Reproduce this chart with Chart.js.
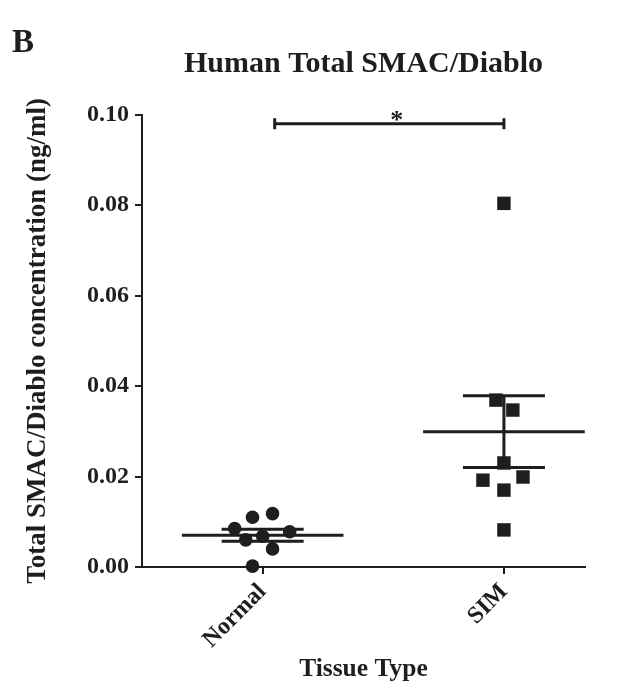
<!DOCTYPE html>
<html>
<head>
<meta charset="utf-8">
<script src="https://cdn.jsdelivr.net/npm/chart.js@4.4.0/dist/chart.umd.min.js"></script>
<style>
  html, body { margin: 0; padding: 0; background: #fff; }
</style>
</head>
<body>
<canvas id="smacchart" width="619" height="692"></canvas>
<script>
// tissue groups and the measured values (ng/ml)
var groups = ['Normal', 'SIM'];
var normalValues = [0.0118, 0.0110, 0.0085, 0.0078, 0.0068, 0.0060, 0.0040, 0.0002];
var normalX = [1.041, 0.958, 0.884, 1.112, 1.0, 0.93, 1.041, 0.958];
var simValues = [0.0804, 0.0369, 0.0347, 0.0230, 0.0192, 0.0199, 0.0170, 0.0082];
var simX = [2, 1.967, 2.037, 2, 1.913, 2.079, 2, 2];
var yTicks = [0, 0.02, 0.04, 0.06, 0.08, 0.10];
// significance bar between the groups
var sigFrom = 1.05, sigTo = 2, sigLevel = 0.098, starX = 1.556;

var ink = '#1e1e1e';
var serif = '"Liberation Serif", "Times New Roman", serif';

function meanSem(vals) {
    var n = vals.length;
    var mean = vals.reduce(function (a, b) { return a + b; }, 0) / n;
    var ss = vals.reduce(function (a, b) { return a + (b - mean) * (b - mean); }, 0);
    var sd = Math.sqrt(ss / (n - 1));
    return { mean: mean, sem: sd / Math.sqrt(n) };
}

// mean line plus SEM whiskers, gaps made with y:null
function summaryLines(center, vals) {
    var s = meanSem(vals);
    var w = 0.335, cap = 0.17;
    var hi = s.mean + s.sem, lo = s.mean - s.sem;
    return [
        { x: center - w, y: s.mean }, { x: center + w, y: s.mean }, { x: center, y: null },
        { x: center - cap, y: hi }, { x: center + cap, y: hi }, { x: center, y: null },
        { x: center - cap, y: lo }, { x: center + cap, y: lo }, { x: center, y: null },
        { x: center, y: hi }, { x: center, y: lo }
    ];
}

function points(xs, ys) {
    return ys.map(function (v, i) { return { x: xs[i], y: v }; });
}

var tick = 0.0012;
var bracket = [
    { x: sigFrom, y: sigLevel + tick }, { x: sigFrom, y: sigLevel - tick }, { x: sigFrom, y: null },
    { x: sigFrom, y: sigLevel }, { x: sigTo, y: sigLevel }, { x: sigTo, y: null },
    { x: sigTo, y: sigLevel + tick }, { x: sigTo, y: sigLevel - tick }
];

function lineSet(data) {
    return {
        data: data, showLine: true, spanGaps: false, pointRadius: 0,
        borderColor: ink, borderWidth: 3, clip: false
    };
}

var starPlugin = {
    id: 'star',
    afterDatasetsDraw: function (chart) {
        var ctx = chart.ctx;
        var xs = chart.scales.x, ys = chart.scales.y;
        ctx.save();
        ctx.fillStyle = ink;
        ctx.font = 'bold 26px ' + serif;
        ctx.textAlign = 'center';
        ctx.textBaseline = 'alphabetic';
        ctx.fillText('*', xs.getPixelForValue(starX), ys.getPixelForValue(sigLevel) + 4);
        ctx.restore();
    }
};

new Chart('smacchart', {
    type: 'scatter',
    data: {
        datasets: [
            { data: points(normalX, normalValues), pointStyle: 'circle', pointRadius: 6.8,
              backgroundColor: ink, borderColor: ink, borderWidth: 0, clip: false },
            { data: points(simX, simValues), pointStyle: 'rect', pointRadius: 9.5,
              backgroundColor: ink, borderColor: ink, borderWidth: 0, clip: false },
            lineSet(summaryLines(1, normalValues)),
            lineSet(summaryLines(2, simValues)),
            lineSet(bracket)
        ]
    },
    plugins: [starPlugin],
    options: {
        responsive: false,
        animation: false,
        devicePixelRatio: 1,
        layout: { padding: { left: 12, right: 34, top: 0, bottom: 0 } },
        plugins: {
            legend: { display: false },
            tooltip: { enabled: false },
            title: {
                display: true, text: 'B', align: 'start', color: ink,
                font: { family: serif, size: 33, weight: 'bold', lineHeight: 0.7 },
                padding: { top: 32, bottom: 0 }
            },
            subtitle: {
                display: true, text: 'Human Total SMAC/Diablo', fullSize: false, color: ink,
                font: { family: serif, size: 30, weight: 'bold', lineHeight: 0.6 },
                padding: { top: 0.6, bottom: 41 }
            }
        },
        scales: {
            x: {
                type: 'linear', min: 0.5, max: 2.336,
                afterBuildTicks: function (s) { s.ticks = [{ value: 1 }, { value: 2 }]; },
                afterFit: function (s) { s.height = 125; },
                ticks: {
                    autoSkip: false, minRotation: 45, maxRotation: 45, padding: 4, color: ink,
                    font: { family: serif, size: 24, weight: 'bold' },
                    callback: function (v) { return groups[v - 1]; }
                },
                grid: { drawOnChartArea: false, drawTicks: true, tickLength: 7, color: ink, lineWidth: 2 },
                border: { display: true, color: ink, width: 2 },
                title: {
                    display: true, text: 'Tissue Type', color: ink,
                    font: { family: serif, size: 25.5, weight: 'bold' },
                    padding: { top: 0, bottom: 7 }
                }
            },
            y: {
                min: 0, max: 0.1,
                afterBuildTicks: function (s) { s.ticks = yTicks.map(function (v) { return { value: v }; }); },
                afterFit: function (s) { s.width = 130; },
                ticks: {
                    padding: 6, color: ink,
                    font: { family: serif, size: 24, weight: 'bold' },
                    callback: function (v) { return v.toFixed(2); }
                },
                grid: { drawOnChartArea: false, drawTicks: true, tickLength: 7, color: ink, lineWidth: 2 },
                border: { display: true, color: ink, width: 2 },
                title: {
                    display: true, text: 'Total SMAC/Diablo concentration (ng/ml)', color: ink,
                    font: { family: serif, size: 27, weight: 'bold' },
                    padding: { top: 10, bottom: 0 }
                }
            }
        }
    }
});
</script>
</body>
</html>
